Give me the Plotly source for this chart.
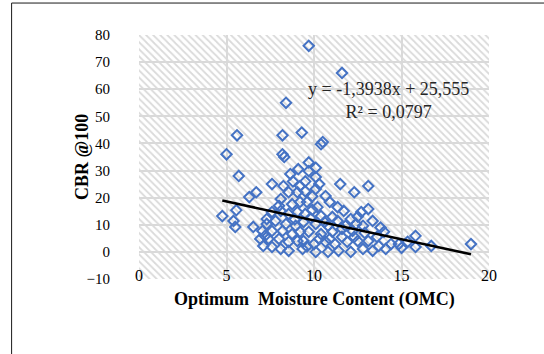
import plotly.graph_objects as go

# ---- data ----
omc = [9.7, 11.6, 8.4, 5.6, 8.2, 9.3, 10.4, 10.5, 5.0, 8.2, 8.3, 9.7, 9.7, 10.1, 8.65, 9.1,
       5.7, 10.1, 7.6, 8.25, 8.8, 9.2, 9.5, 10.1, 11.5, 12.3, 13.1, 6.7, 6.3, 8.55, 9.05,
       9.5, 10.66, 8.1, 8.75, 9.2, 9.6, 10.2, 10.9, 11.35, 4.76, 5.56, 5.4, 5.5, 6.53,
       7.05, 6.93, 7.3, 7.3, 7.6, 8.1, 8.55, 9.05, 9.5, 9.9, 7.8, 8.4, 8.95, 9.4, 7.6, 8.2,
       8.75, 9.2, 7.4, 8.0, 8.55, 9.05, 7.6, 8.1, 8.55, 9.35, 7.1, 7.2, 10.4, 11.05, 10.1,
       10.8, 11.35, 11.7, 12.1, 12.7, 13.1, 13.35, 12.8, 12.2, 11.6, 11.05, 10.4, 9.7, 9.4,
       10.0, 10.66, 11.2, 11.9, 12.5, 13.1, 13.6, 14.0, 10.1, 10.8, 11.4, 12.1, 12.8, 13.35,
       14.4, 14.85, 15.35, 11.8, 12.4, 11.6, 12.3, 10.9, 10.3, 13.7, 14.1, 15.8, 15.8, 16.7,
       18.97, 15.0, 9.8, 9.9, 10.3, 8.0, 8.9, 12.5, 12.9, 13.8, 10.6, 9.6]
cbr = [76, 66, 55, 43, 43, 44, 39.7, 40.5, 36, 36, 35, 33, 29.8, 31, 28.7, 30.5,
       28, 27.6, 25, 24.3, 26, 24.3, 26, 23.2, 25, 22, 24.3, 22, 20.2, 22, 22,
       22.4, 20.6, 19.5, 17.6, 18.4, 18.4, 16.5, 18.4, 16.5, 13.2, 15.4, 11.4, 9.2, 9.2,
       7.7, 4.8, 12.1, 10.3, 14.7, 15.1, 14, 14.7, 14, 15.5, 11.4, 10.3, 9.6, 11, 7.7, 7.7,
       6.6, 7.4, 4.8, 4.8, 3.7, 4, 1.8, 1.1, 0.4, 1.1, 2.2, 5.9, 13.2, 12.9, 10.3,
       9.6, 11.4, 15.1, 12.1, 14.7, 15.8, 11.4, 9.6, 7.7, 8.5, 7.4, 6.6, 7.4, 4,
       2.9, 3.7, 2.9, 3.7, 4, 4, 5.5, 7.4, 0, 0, 0.4, 0, 1.1, 0.4,
       2.9, 2.9, 3.7, 9.6, 10.3, 5.5, 5.5, 4.8, 4.8, 2.2, 1.1, 5.9, 1.8, 2.2,
       2.9, 1.5, 12.5, 20.5, 25, 17, 12, 13, 7, 9, 11, 2]

slope = -1.3938
intercept = 25.555
equation_text = "y = -1,3938x + 25,555<br>R² = 0,0797"
x_title = "<b>Optimum  Moisture Content (OMC)</b>"
y_title = "<b>CBR @100</b>"

x_range = [0, 20]
y_range = [-10, 80]
x_ticks = [0, 5, 10, 15, 20]
y_ticks = [-10, 0, 10, 20, 30, 40, 50, 60, 70, 80]

FONT = "Liberation Serif, Times New Roman, serif"
BLUE = "#4472C4"
GRID = "#D9D9D9"
HATCH = "#DADADA"

fig = go.Figure()

# hatched plot-area background
fig.add_trace(go.Bar(
    x=[(x_range[0] + x_range[1]) / 2], y=[y_range[1] - y_range[0]], base=[y_range[0]],
    width=[x_range[1] - x_range[0]],
    marker=dict(color=HATCH, line_width=0,
                pattern=dict(shape="\\", fgcolor=HATCH, bgcolor="rgba(255,255,255,0)",
                             fillmode="replace", size=5, solidity=0.35)),
    hoverinfo="skip", showlegend=False))

fig.add_trace(go.Scatter(
    x=omc, y=cbr, mode="markers",
    marker=dict(symbol="diamond-open", size=8, color=BLUE, line=dict(width=2, color=BLUE)),
    showlegend=False))

x_lo, x_hi = min(omc), max(omc)
fig.add_trace(go.Scatter(
    x=[x_lo, x_hi], y=[slope * x_lo + intercept, slope * x_hi + intercept],
    mode="lines", line=dict(color="black", width=2.5), showlegend=False))

fig.add_annotation(x=14.27, y=55.7, xref="x", yref="y", text=equation_text,
                   showarrow=False, xanchor="center", yanchor="middle", align="center",
                   font=dict(family=FONT, size=18, color="#262626"))

# axis titles
fig.add_annotation(x=0.5, y=-0.086, xref="paper", yref="paper", text=x_title,
                   showarrow=False, xanchor="center", yanchor="middle",
                   font=dict(family=FONT, size=18, color="black"))
fig.add_annotation(x=-0.163, y=0.5, xref="paper", yref="paper", text=y_title,
                   showarrow=False, xanchor="center", yanchor="middle", textangle=-90,
                   font=dict(family=FONT, size=18, color="black"))

# outer chart border (left and top edges visible)
fig.add_shape(type="rect", xref="paper", yref="paper", x0=-0.364, x1=2, y0=-1, y1=1.131,
              line=dict(color="#1a1a1a", width=1), fillcolor="rgba(0,0,0,0)", layer="below")

fig.update_layout(
    width=544, height=354,
    margin=dict(l=139, r=55, t=35, b=75),
    plot_bgcolor="white", paper_bgcolor="white",
    bargap=0,
    font=dict(family=FONT, color="black"),
    xaxis=dict(range=x_range, tickvals=x_ticks, showgrid=True, gridcolor=GRID, gridwidth=1.5,
               zeroline=False, showline=False, ticks="", anchor="free", position=0.06,
               tickfont=dict(family=FONT, size=16, color="black")),
    yaxis=dict(range=y_range, tickvals=y_ticks, showgrid=True, gridcolor=GRID, gridwidth=1.5,
               zeroline=False, showline=False, ticks="outside", ticklen=25,
               tickcolor="rgba(0,0,0,0)",
               tickfont=dict(family=FONT, size=15, color="black")),
)

fig.write_html("out.html")
